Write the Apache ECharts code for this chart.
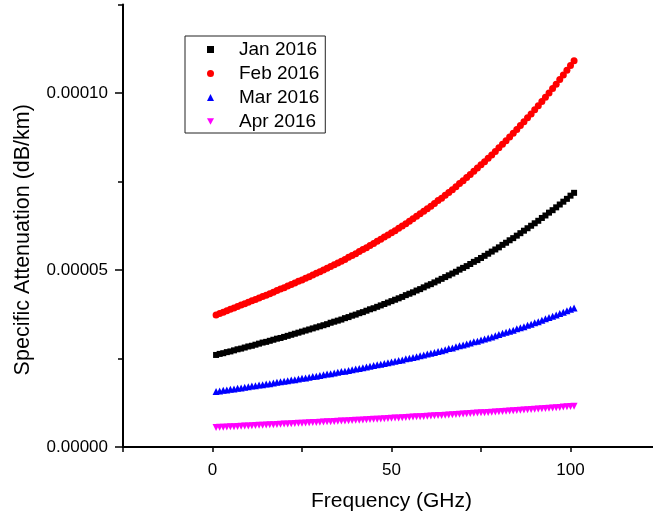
<!DOCTYPE html>
<html>
<head>
<meta charset="utf-8">
<script src="https://cdn.jsdelivr.net/npm/echarts@6/dist/echarts.min.js"></script>
<style>
  html, body { margin: 0; padding: 0; background: #fff; }
  #chart { width: 653px; height: 519px; }
</style>
</head>
<body>
<div id="chart"></div>
<script>
// frequency (GHz)
const freq = [1,2,3,4,5,6,7,8,9,10,11,12,13,14,15,16,17,18,19,20,
  21,22,23,24,25,26,27,28,29,30,31,32,33,34,35,36,37,38,39,40,
  41,42,43,44,45,46,47,48,49,50,51,52,53,54,55,56,57,58,59,60,
  61,62,63,64,65,66,67,68,69,70,71,72,73,74,75,76,77,78,79,80,
  81,82,83,84,85,86,87,88,89,90,91,92,93,94,95,96,97,98,99,100,101];

// specific attenuation, in units of 1e-5 dB/km
const jan2016 = [2.60,2.63,2.65,2.68,2.70,2.73,2.76,2.78,2.81,2.84,
  2.86,2.89,2.92,2.95,2.97,3.00,3.03,3.06,3.08,3.11,
  3.14,3.17,3.20,3.23,3.26,3.29,3.32,3.35,3.38,3.41,
  3.44,3.47,3.51,3.54,3.57,3.60,3.64,3.67,3.71,3.74,
  3.78,3.81,3.85,3.89,3.92,3.96,4.00,4.04,4.08,4.12,
  4.16,4.20,4.24,4.29,4.33,4.37,4.42,4.46,4.51,4.56,
  4.60,4.65,4.70,4.75,4.80,4.85,4.90,4.95,5.01,5.06,
  5.11,5.17,5.23,5.28,5.34,5.40,5.46,5.52,5.58,5.64,
  5.71,5.77,5.84,5.90,5.97,6.04,6.11,6.18,6.25,6.32,
  6.39,6.47,6.54,6.62,6.69,6.77,6.85,6.93,7.01,7.10,7.18];
const feb2016 = [3.73,3.77,3.81,3.85,3.89,3.93,3.97,4.01,4.05,4.09,
  4.13,4.17,4.21,4.25,4.29,4.33,4.37,4.42,4.46,4.50,
  4.55,4.59,4.63,4.68,4.72,4.77,4.81,4.86,4.91,4.95,
  5.00,5.05,5.10,5.15,5.20,5.25,5.30,5.36,5.41,5.46,
  5.52,5.58,5.63,5.69,5.75,5.81,5.87,5.93,5.99,6.05,
  6.11,6.18,6.24,6.31,6.38,6.45,6.52,6.59,6.66,6.73,
  6.80,6.88,6.96,7.03,7.11,7.19,7.27,7.35,7.44,7.52,
  7.61,7.70,7.79,7.88,7.97,8.06,8.16,8.25,8.35,8.45,
  8.55,8.65,8.76,8.86,8.97,9.08,9.19,9.30,9.41,9.53,
  9.64,9.76,9.88,10.00,10.13,10.25,10.38,10.51,10.64,10.78,10.91];
const mar2016 = [1.57,1.58,1.60,1.61,1.63,1.64,1.66,1.67,1.69,1.70,
  1.72,1.73,1.75,1.76,1.78,1.79,1.81,1.83,1.84,1.86,
  1.87,1.89,1.90,1.92,1.94,1.95,1.97,1.99,2.00,2.02,
  2.04,2.06,2.07,2.09,2.11,2.13,2.14,2.16,2.18,2.20,
  2.22,2.24,2.26,2.28,2.30,2.32,2.34,2.36,2.38,2.40,
  2.42,2.44,2.46,2.49,2.51,2.53,2.55,2.58,2.60,2.63,
  2.65,2.67,2.70,2.72,2.75,2.78,2.80,2.83,2.86,2.88,
  2.91,2.94,2.97,2.99,3.02,3.05,3.08,3.11,3.14,3.18,
  3.21,3.24,3.27,3.30,3.34,3.37,3.40,3.44,3.47,3.51,
  3.54,3.58,3.62,3.66,3.69,3.73,3.77,3.81,3.85,3.89,3.93];
const apr2016 = [0.550,0.555,0.560,0.565,0.570,0.575,0.581,0.586,0.591,0.596,
  0.601,0.606,0.611,0.616,0.621,0.627,0.632,0.637,0.642,0.647,
  0.652,0.658,0.663,0.668,0.673,0.679,0.684,0.689,0.694,0.700,
  0.705,0.710,0.716,0.721,0.727,0.732,0.737,0.743,0.748,0.754,
  0.759,0.765,0.770,0.776,0.782,0.787,0.793,0.799,0.804,0.810,
  0.816,0.822,0.827,0.833,0.839,0.845,0.851,0.857,0.863,0.869,
  0.875,0.881,0.887,0.893,0.900,0.906,0.912,0.918,0.925,0.931,
  0.938,0.944,0.950,0.957,0.964,0.970,0.977,0.984,0.990,0.997,
  1.004,1.011,1.018,1.025,1.032,1.039,1.046,1.053,1.060,1.067,
  1.074,1.082,1.089,1.097,1.104,1.112,1.119,1.127,1.134,1.142,1.150];

const seriesNames = ["Jan 2016", "Feb 2016", "Mar 2016", "Apr 2016"];
const xTickLabels = [0, 50, 100];
const yTickLabels = [0, 5, 10];

const font = "'Liberation Sans', Arial, sans-serif";
const downTriangle = "path://M0,0L10,0L5,9Z";

function pairs(vals) {
  return freq.map((f, i) => [f, vals[i]]);
}

const chart = echarts.init(document.getElementById("chart"));
chart.setOption({
  animation: false,
  backgroundColor: "#fff",
  textStyle: { fontFamily: font, color: "#000" },
  grid: { left: 123, right: -7, top: 4.5, bottom: 72, containLabel: false, outerBoundsMode: "none" },
  legend: {
    orient: "vertical",
    left: 185,
    top: 36,
    padding: [4, 6, 2, 22],
    itemGap: 5,
    itemWidth: 7,
    itemHeight: 7,
    borderColor: "#222",
    borderWidth: 1,
    textStyle: { fontFamily: font, fontSize: 19, color: "#000", lineHeight: 19, padding: [0, 0, 0, 20] },
    data: [
      { name: seriesNames[0], icon: "rect" },
      { name: seriesNames[1], icon: "circle" },
      { name: seriesNames[2], icon: "triangle" },
      { name: seriesNames[3], icon: downTriangle }
    ]
  },
  xAxis: {
    type: "value",
    min: -25,
    max: 125,
    interval: 25,
    name: "Frequency (GHz)",
    nameLocation: "middle",
    nameGap: 44,
    nameTextStyle: { fontFamily: font, fontSize: 21, color: "#000" },
    axisLine: { show: true, onZero: false, lineStyle: { color: "#000", width: 2 } },
    axisTick: { show: true, inside: false, length: 5, lineStyle: { color: "#000", width: 1.5 } },
    axisLabel: {
      fontFamily: font, fontSize: 17, color: "#000", margin: 15,
      formatter: v => (xTickLabels.indexOf(v) >= 0 ? String(v) : "")
    },
    splitLine: { show: false }
  },
  yAxis: [
    {
      type: "value",
      min: 0,
      max: 12.5,
      interval: 2.5,
      axisLine: { show: true, onZero: false, lineStyle: { color: "#000", width: 2 } },
      axisTick: { show: true, inside: false, length: 5, lineStyle: { color: "#000", width: 1.5 } },
      axisLabel: { show: false },
      splitLine: { show: false }
    },
    {
      type: "value",
      min: 0,
      max: 12.5,
      interval: 2.5,
      position: "left",
      name: "Specific Attenuation (dB/km)",
      nameLocation: "middle",
      nameGap: 89,
      nameTextStyle: { fontFamily: font, fontSize: 21.5, color: "#000", padding: [0, 28, 0, 0] },
      axisLine: { show: false, onZero: false },
      axisTick: { show: true, inside: false, length: 8, customValues: yTickLabels, lineStyle: { color: "#000", width: 1.5 } },
      axisLabel: {
        fontFamily: font, fontSize: 17, color: "#000", margin: 15,
        customValues: yTickLabels,
        formatter: v => (v * 1e-5).toFixed(5)
      },
      splitLine: { show: false }
    }
  ],
  series: [
    { name: seriesNames[0], type: "scatter", symbol: "rect", symbolSize: 6, itemStyle: { color: "#000000", opacity: 1 }, data: pairs(jan2016) },
    { name: seriesNames[1], type: "scatter", symbol: "circle", symbolSize: 7, itemStyle: { color: "#ff0000", opacity: 1 }, data: pairs(feb2016) },
    { name: seriesNames[2], type: "scatter", symbol: "triangle", symbolSize: 7, itemStyle: { color: "#0000ff", opacity: 1 }, data: pairs(mar2016) },
    { name: seriesNames[3], type: "scatter", symbol: "triangle", symbolRotate: 180, symbolSize: 7, itemStyle: { color: "#ff00ff", opacity: 1 }, data: pairs(apr2016) }
  ]
});
</script>
</body>
</html>
